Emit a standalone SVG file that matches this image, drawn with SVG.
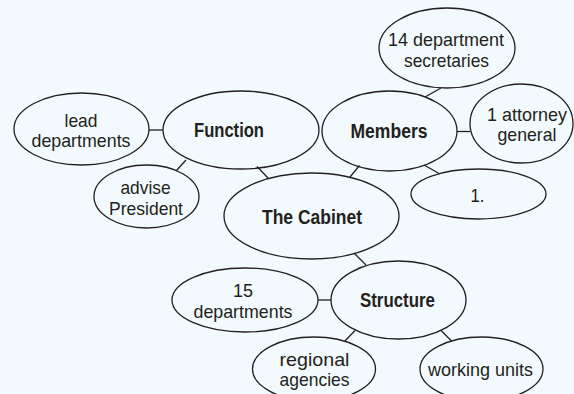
<svg xmlns="http://www.w3.org/2000/svg" width="574" height="394" viewBox="0 0 574 394">
<style>
.n{fill:none;stroke:#231f20;stroke-width:1.3}
.c{stroke:#231f20;stroke-width:1.3;fill:none}
text{font-family:"Liberation Sans",Arial,sans-serif;fill:#231f20;text-anchor:middle}
.r{font-size:19px}
.b{font-size:19.5px;font-weight:bold}
</style>
<rect width="574" height="394" fill="#f2fafd"/>
<g id="connectors">
<line class="c" x1="149" y1="130" x2="163" y2="130"/>
<line class="c" x1="186" y1="160" x2="176" y2="171"/>
<line class="c" x1="257" y1="166.5" x2="268" y2="178"/>
<line class="c" x1="359.5" y1="165.5" x2="350" y2="177"/>
<line class="c" x1="425" y1="97" x2="441" y2="88"/>
<line class="c" x1="457" y1="131.5" x2="470" y2="131.5"/>
<line class="c" x1="424" y1="165" x2="440" y2="174"/>
<line class="c" x1="354" y1="253" x2="366" y2="265"/>
<line class="c" x1="318" y1="300" x2="331" y2="300"/>
<line class="c" x1="355" y1="330.5" x2="344.5" y2="341.5"/>
<line class="c" x1="441" y1="330.5" x2="451.5" y2="341"/>
</g>
<g id="lead">
<ellipse class="n" cx="81.5" cy="129" rx="67.5" ry="36"/>
<text class="r" x="81" y="126.5" textLength="33" lengthAdjust="spacingAndGlyphs">lead</text>
<text class="r" x="81" y="146.5" textLength="99" lengthAdjust="spacingAndGlyphs">departments</text>
</g>
<g id="function">
<ellipse class="n" cx="241" cy="130" rx="78" ry="39"/>
<text class="b" x="229" y="136.5" textLength="70" lengthAdjust="spacingAndGlyphs">Function</text>
</g>
<g id="advise">
<ellipse class="n" cx="146.5" cy="196.5" rx="52.5" ry="31.5"/>
<text class="r" x="145.5" y="194" textLength="50" lengthAdjust="spacingAndGlyphs">advise</text>
<text class="r" x="146" y="215" textLength="74" lengthAdjust="spacingAndGlyphs">President</text>
</g>
<g id="members">
<ellipse class="n" cx="389.5" cy="131" rx="67.5" ry="40"/>
<text class="b" x="389" y="138.3" textLength="77" lengthAdjust="spacingAndGlyphs">Members</text>
</g>
<g id="secretaries">
<ellipse class="n" cx="447" cy="48" rx="68" ry="40"/>
<text class="r" x="446" y="45.5" textLength="116" lengthAdjust="spacingAndGlyphs">14 department</text>
<text class="r" x="446.5" y="66.5" textLength="85" lengthAdjust="spacingAndGlyphs">secretaries</text>
</g>
<g id="attorney">
<ellipse class="n" cx="521.5" cy="123.5" rx="51.5" ry="39.5"/>
<text class="r" x="527" y="120.5" textLength="80" lengthAdjust="spacingAndGlyphs">1 attorney</text>
<text class="r" x="527" y="140.7" textLength="59" lengthAdjust="spacingAndGlyphs">general</text>
</g>
<g id="one">
<ellipse class="n" cx="478.5" cy="194" rx="67.5" ry="25"/>
<text class="r" x="477.5" y="202" textLength="14" lengthAdjust="spacingAndGlyphs">1.</text>
</g>
<g id="cabinet">
<ellipse class="n" cx="311.5" cy="216" rx="87.5" ry="43"/>
<text class="b" x="312" y="224" textLength="100" lengthAdjust="spacingAndGlyphs">The Cabinet</text>
</g>
<g id="structure">
<ellipse class="n" cx="398.5" cy="300" rx="67.5" ry="39"/>
<text class="b" x="397.5" y="307.3" textLength="75" lengthAdjust="spacingAndGlyphs">Structure</text>
</g>
<g id="departments">
<ellipse class="n" cx="245" cy="300" rx="73" ry="32"/>
<text class="r" x="243" y="296.7" textLength="20" lengthAdjust="spacingAndGlyphs">15</text>
<text class="r" x="243" y="318.3" textLength="99" lengthAdjust="spacingAndGlyphs">departments</text>
</g>
<g id="regional">
<ellipse class="n" cx="314" cy="369" rx="61.5" ry="32"/>
<text class="r" x="314.5" y="365.7" textLength="70" lengthAdjust="spacingAndGlyphs">regional</text>
<text class="r" x="314.5" y="385.7" textLength="70" lengthAdjust="spacingAndGlyphs">agencies</text>
</g>
<g id="working">
<ellipse class="n" cx="481.5" cy="369" rx="61.5" ry="32"/>
<text class="r" x="480.5" y="376" textLength="105" lengthAdjust="spacingAndGlyphs">working units</text>
</g>
</svg>
